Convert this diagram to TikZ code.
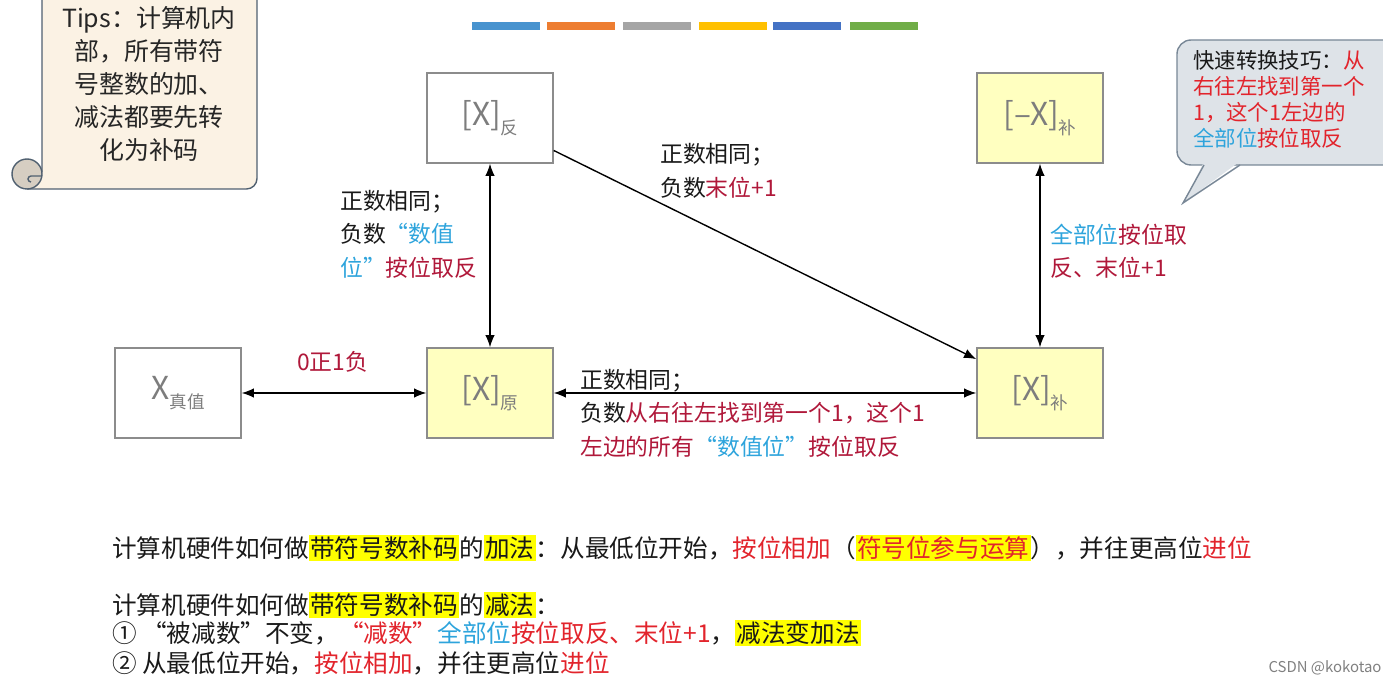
\documentclass[tikz,border=0pt]{standalone}
\usepackage{fontspec}
\setmainfont{Noto Sans CJK SC}
\usetikzlibrary{shapes,arrows,arrows.meta,positioning,fit,calc}

\definecolor{dred}{RGB}{176,24,58}
\definecolor{bred}{RGB}{226,36,44}
\definecolor{cyanc}{RGB}{46,164,220}
\definecolor{boxyel}{RGB}{255,255,192}
\definecolor{boxline}{RGB}{140,140,140}
\definecolor{boxtext}{RGB}{125,125,125}
\definecolor{hlyel}{RGB}{255,255,0}
\definecolor{tipfill}{RGB}{251,242,228}
\definecolor{tipline}{RGB}{80,96,112}
\definecolor{curlfill}{RGB}{214,206,194}
\definecolor{bubfill}{RGB}{222,227,232}
\definecolor{bubline}{RGB}{120,135,150}
\definecolor{barA}{RGB}{72,147,207}
\definecolor{barB}{RGB}{237,125,49}
\definecolor{barC}{RGB}{165,165,165}
\definecolor{barD}{RGB}{255,192,0}
\definecolor{barE}{RGB}{68,114,196}
\definecolor{barF}{RGB}{112,173,71}

\newcommand{\hlt}[1]{{\setlength{\fboxsep}{0.8pt}\colorbox{hlyel}{#1}}}
\newcommand{\subtag}[1]{\raisebox{-5pt}{\fontsize{10}{10}\selectfont #1}}

\begin{document}
\begin{tikzpicture}[x=0.02cm, y=-0.02cm,
  codebox/.style={draw=boxline, line width=0.8pt, minimum width=2.52cm, minimum height=1.8cm,
    text=boxtext, font=\fontsize{18}{20}\selectfont},
  plainbox/.style={codebox, fill=white},
  yelbox/.style={codebox, fill=boxyel},
  conv/.style={line width=0.8pt, {Latex[length=7pt,width=5.5pt]}-{Latex[length=7pt,width=5.5pt]}},
  oneway/.style={line width=0.8pt, -{Latex[length=7pt,width=5.5pt]}},
  lbl/.style={anchor=west, align=left, text=black!90, font=\fontsize{13}{19}\selectfont},
  rule/.style={anchor=west, text=black!90, font=\fontsize{14}{17}\selectfont}]
\useasboundingbox (0,0) rectangle (1383,685);

% Colour bars
\foreach \x/\c in {472/barA, 547/barB, 623/barC, 699/barD, 773/barE, 850/barF} {
    \fill[\c] (\x,22) rectangle (\x+68,30);
}

% Tips scroll
\filldraw[fill=tipfill, draw=tipline, line width=0.8pt, rounded corners=6pt]
  (27,189) -- (257,189) -- (257,-20) -- (42,-20) -- (42,172);
\filldraw[fill=curlfill, draw=tipline, line width=0.8pt] (27,174) circle (15);
\draw[tipline, line width=0.8pt] (42,176) -- (31,176) arc[start angle=90, end angle=270, radius=0.06cm];
\node[align=center, text=black!85, font=\fontsize{14.2}{18.7}\selectfont] (tiptext) at (149,84)
  {Tips：计算机内\\部，所有带符\\号整数的加、\\减法都要先转\\化为补码};

% Speech bubble
\filldraw[fill=bubfill, draw=bubline, line width=0.8pt, rounded corners=8pt] (1177,40) rectangle (1400,165);
\fill[bubfill] (1204,162) -- (1183,203) -- (1239,162) -- cycle;
\draw[bubline, line width=0.8pt] (1204,165) -- (1183,203) -- (1240,165);
\node[anchor=west, align=left, text=black!90, font=\fontsize{12.2}{14.8}\selectfont] (tricktext) at (1187,99)
  {快速转换技巧：\textcolor{bred}{从}\\\textcolor{bred}{右往左找到第一个}\\\textcolor{bred}{1，这个1左边的}\\\textcolor{cyanc}{全部位}\textcolor{bred}{按位取反}};

% Codes
\node[plainbox] (xtrue) at (178,393) {X\subtag{真值}};
\node[yelbox] (xorig) at (490,393) {[X]\subtag{原}};
\node[plainbox] (xrev) at (490,118) {[X]\subtag{反}};
\node[yelbox] (xneg) at (1040,118) {[–X]\subtag{补}};
\node[yelbox] (xcomp) at (1040,393) {[X]\subtag{补}};

% Conversions
\draw[conv] (xtrue) -- (xorig);
\draw[conv] (xrev) -- (xorig);
\draw[conv] (xorig) -- (xcomp);
\draw[conv] (xcomp) -- (xneg);
\draw[oneway] (xrev.-27) -- (xcomp.152);

% Labels
\node[lbl, text=dred] (lblsign) at (291,362) {0正1负};
\node[lbl] (lblrev) at (334,234)
  {正数相同；\\负数\textcolor{cyanc}{“数值}\\\textcolor{cyanc}{位”}\textcolor{dred}{按位取反}};
\node[lbl] (lblrevcomp) at (654,171) {正数相同；\\负数\textcolor{dred}{末位+1}};
\node[lbl] (lblcomp) at (574,413)
  {正数相同；\\负数\textcolor{dred}{从右往左找到第一个1，这个1}\\\textcolor{dred}{左边的所有}\textcolor{cyanc}{“数值位”}\textcolor{dred}{按位取反}};
\node[lbl] (lblneg) at (1044,251) {\textcolor{cyanc}{全部位}\textcolor{dred}{按位取}\\\textcolor{dred}{反、末位+1}};

% Rules for add / sub
\node[rule] (addrule) at (106,548)
  {计算机硬件如何做\hlt{带符号数补码}的\hlt{加法}：从最低位开始，\textcolor{bred}{按位相加}（\hlt{\textcolor{bred}{符号位参与运算}}），并往更高位\textcolor{bred}{进位}};
\node[rule] (subrule) at (106,605) {计算机硬件如何做\hlt{带符号数补码}的\hlt{减法}：};
\node[rule] (substepa) at (106,633)
  {① “被减数”不变，\textcolor{bred}{“减数”}\textcolor{cyanc}{全部位}\textcolor{bred}{按位取反、末位+1}，\hlt{减法变加法}};
\node[rule] (substepb) at (106,663) {② 从最低位开始，\textcolor{bred}{按位相加}，并往更高位\textcolor{bred}{进位}};

% Watermark
\node[text=black!50, font=\fontsize{8.5}{10}\selectfont] (csdn) at (1325,668) {CSDN @kokotao};
\end{tikzpicture}
\end{document}
